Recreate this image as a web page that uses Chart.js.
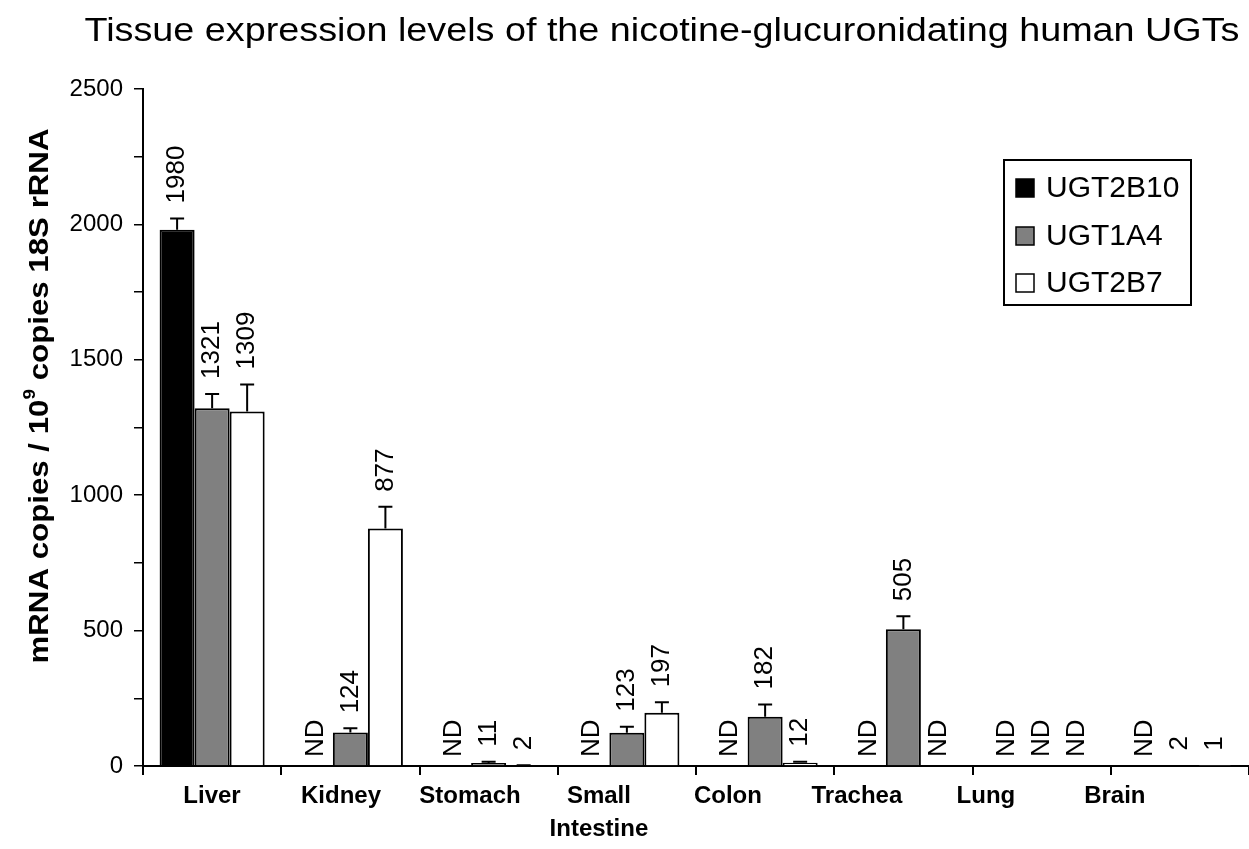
<!DOCTYPE html>
<html>
<head>
<meta charset="utf-8">
<script src="https://cdn.jsdelivr.net/npm/chart.js@4.4.1/dist/chart.umd.min.js"></script>
<style>
  html, body { margin: 0; padding: 0; background: #fff; }
  #wrap { width: 1249px; height: 849px; }
</style>
</head>
<body>
<div id="wrap"><canvas id="ugtChart"></canvas></div>
<script>
// values (null = ND, not detected)
const tissues = ['Liver', 'Kidney', 'Stomach', ['Small', 'Intestine'], 'Colon', 'Trachea', 'Lung', 'Brain'];
const seriesNames = ['UGT2B10', 'UGT1A4', 'UGT2B7'];
const ugt2b10 = [1980, null, null, null, null, null, null, null];
const ugt1a4 = [1321, 124, 11, 123, 182, 505, null, 2];
const ugt2b7 = [1309, 877, 2, 197, 12, null, null, 1];
// upper error bars (SD), estimated
const ugt2b10Err = [42, 0, 0, 0, 0, 0, 0, 0];
const ugt1a4Err = [53, 15, 5, 22, 45, 48, 0, 0];
const ugt2b7Err = [100, 80, 1, 38, 4, 0, 0, 0];
const yTickLabels = [0, 500, 1000, 1500, 2000, 2500];

const titleText = 'Tissue expression levels of the nicotine-glucuronidating human UGTs';
const FONT = "'Liberation Sans', Arial, sans-serif";
const errs = [ugt2b10Err, ugt1a4Err, ugt2b7Err];

// error bars, drawn above the bars
const errorBars = {
    id: 'errorBars',
    afterDatasetsDraw(chart) {
        const ctx = chart.ctx;
        const y = chart.scales.y;
        ctx.save();
        ctx.strokeStyle = '#000';
        ctx.lineWidth = 2;
        chart.data.datasets.forEach((ds, i) => {
            const meta = chart.getDatasetMeta(i);
            meta.data.forEach((bar, j) => {
                const v = ds.data[j];
                const e = errs[i][j];
                if (v == null || !e) return;
                const top = y.getPixelForValue(v + e);
                ctx.beginPath();
                ctx.moveTo(bar.x, y.getPixelForValue(v));
                ctx.lineTo(bar.x, top);
                ctx.moveTo(bar.x - 7, top);
                ctx.lineTo(bar.x + 7, top);
                ctx.stroke();
            });
        });
        ctx.restore();
    }
};

// rotated value labels, "ND" for missing ones
const valueLabels = {
    id: 'valueLabels',
    afterDatasetsDraw(chart) {
        const ctx = chart.ctx;
        const y = chart.scales.y;
        const axisY = y.getPixelForValue(0);
        ctx.save();
        ctx.fillStyle = '#000';
        ctx.font = '26px ' + FONT;
        ctx.textAlign = 'left';
        ctx.textBaseline = 'middle';
        chart.data.datasets.forEach((ds, i) => {
            const meta = chart.getDatasetMeta(i);
            meta.data.forEach((bar, j) => {
                const v = ds.data[j];
                let txt, bottom;
                if (v == null) {
                    txt = 'ND';
                    bottom = axisY - 9;
                } else {
                    txt = String(v);
                    bottom = Math.min(y.getPixelForValue(v + errs[i][j]) - 15, axisY - 9);
                }
                ctx.save();
                ctx.translate(bar.x, bottom);
                ctx.rotate(-Math.PI / 2);
                ctx.fillText(txt, 0, 0);
                ctx.restore();
            });
        });
        ctx.restore();
    }
};

// title, y-axis title with superscript and the boxed legend
const decorations = {
    id: 'decorations',
    afterDraw(chart) {
        const ctx = chart.ctx;
        ctx.save();
        ctx.fillStyle = '#000';

        // chart title, widened to the span it has in the figure
        ctx.font = '33px ' + FONT;
        ctx.textAlign = 'center';
        ctx.textBaseline = 'middle';
        const tw = ctx.measureText(titleText).width;
        ctx.save();
        ctx.translate(662, 32);
        ctx.scale(1155 / tw, 1);
        ctx.fillText(titleText, 0, 0);
        ctx.restore();

        // y axis title
        const parts = [['mRNA copies / 10', 'bold 28px '], ['9', 'bold 17px '], [' copies 18S rRNA', 'bold 28px ']];
        let total = 0;
        const widths = parts.map(p => { ctx.font = p[1] + FONT; const w = ctx.measureText(p[0]).width; total += w; return w; });
        const target = 535;
        ctx.translate(40, 396);
        ctx.rotate(-Math.PI / 2);
        ctx.scale(target / total, 1);
        ctx.textAlign = 'left';
        ctx.textBaseline = 'middle';
        let x = -total / 2;
        parts.forEach((p, k) => {
            ctx.font = p[1] + FONT;
            ctx.fillText(p[0], x, k === 1 ? -10 : 0);
            x += widths[k];
        });
        ctx.restore();

        // legend
        ctx.save();
        ctx.strokeStyle = '#000';
        ctx.lineWidth = 2;
        ctx.strokeRect(1004, 160, 187, 145);
        ctx.font = '30px ' + FONT;
        ctx.textAlign = 'left';
        ctx.textBaseline = 'middle';
        const rows = [188, 236, 283];
        chart.data.datasets.forEach((ds, i) => {
            ctx.fillStyle = ds.backgroundColor;
            ctx.fillRect(1016, rows[i] - 9, 18, 18);
            ctx.lineWidth = 1.5;
            ctx.strokeRect(1016, rows[i] - 9, 18, 18);
            ctx.fillStyle = '#000';
            ctx.fillText(ds.label, 1046, rows[i] + 1);
        });
        ctx.restore();
    }
};

const barStyle = { borderColor: '#000', borderWidth: 2, categoryPercentage: 0.76, barPercentage: 1 };

new Chart(document.getElementById('ugtChart'), {
    type: 'bar',
    data: {
        labels: tissues,
        datasets: [
            { label: seriesNames[0], data: ugt2b10, backgroundColor: '#000000', ...barStyle },
            { label: seriesNames[1], data: ugt1a4, backgroundColor: '#808080', ...barStyle },
            { label: seriesNames[2], data: ugt2b7, backgroundColor: '#ffffff', ...barStyle }
        ]
    },
    options: {
        responsive: true,
        maintainAspectRatio: false,
        animation: false,
        layout: { padding: { top: 89, right: 0, bottom: 0, left: 0 } },
        plugins: {
            legend: { display: false },
            title: { display: false },
            tooltip: { enabled: false }
        },
        scales: {
            x: {
                weight: 0,
                afterFit: s => { s.height = 9; },
                border: { color: '#000', width: 2 },
                grid: { drawOnChartArea: false, color: '#000', lineWidth: 2, tickLength: 9 },
                ticks: { display: false }
            },
            // category names sit a little left of the group centres in the figure,
            // so they get their own axis spaced like the original
            xNames: {
                type: 'linear',
                position: 'bottom',
                weight: 1,
                offset: false,
                min: -0.535,
                max: 8.04,
                afterBuildTicks: s => { s.ticks = tissues.map((t, i) => ({ value: i })); },
                afterFit: s => { s.height = 74; },
                border: { display: false },
                grid: { display: false, drawTicks: false, offset: false },
                ticks: {
                    color: '#000',
                    padding: 5,
                    maxRotation: 0,
                    autoSkip: false,
                    font: { family: FONT, size: 24, weight: 'bold', lineHeight: 1.38 },
                    callback: v => tissues[v]
                }
            },
            y: {
                min: 0,
                max: 2500,
                afterFit: s => { s.width = 143; },
                border: { color: '#000', width: 2 },
                grid: { drawOnChartArea: false, color: '#000', lineWidth: 1.5, tickLength: 9 },
                ticks: {
                    stepSize: 250,
                    color: '#000',
                    padding: 11,
                    font: { family: FONT, size: 24 },
                    callback: v => yTickLabels.includes(v) ? String(v) : ''
                }
            }
        }
    },
    plugins: [errorBars, valueLabels, decorations]
});
</script>
</body>
</html>
